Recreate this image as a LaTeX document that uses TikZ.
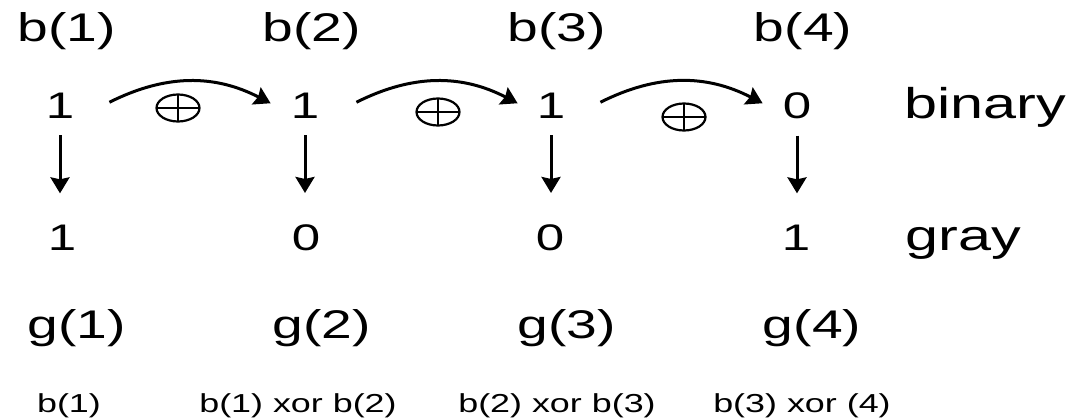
\documentclass[tikz,border=0pt]{standalone}
\usepackage{fontspec}
\setmainfont[FakeStretch=1.38]{Liberation Sans}
\usetikzlibrary{arrows.meta,shapes.geometric}
\begin{document}
\begin{tikzpicture}[x=1pt,y=-1pt,>={Stealth[length=16pt,width=19pt,inset=2pt]},
    etich/.style={anchor=base,inner sep=0pt,font=\fontsize{40}{40}\selectfont},
    cifra/.style={anchor=base,inner sep=0pt,font=\fontsize{37}{37}\selectfont},
    parola/.style={anchor=base,inner sep=0pt,font=\fontsize{43}{43}\selectfont},
    nota/.style={anchor=base,inner sep=0pt,font=\fontsize{26}{26}\selectfont},
    freccia/.style={->,line width=3pt},
    xorsym/.style={ellipse,draw,line width=2.2pt,minimum width=43pt,minimum height=27pt,inner sep=0pt,
        path picture={\draw[line width=1.8pt] (path picture bounding box.west) -- (path picture bounding box.east)
            (path picture bounding box.north) -- (path picture bounding box.south);}}]
    \useasboundingbox (0,0) rectangle (1076,420);
    % etichette b(i)
    \node[etich] (lb1) at (67,42) {b(1)};
    \node[etich] (lb2) at (312,42) {b(2)};
    \node[etich] (lb3) at (557,42) {b(3)};
    \node[etich] (lb4) at (803,42) {b(4)};
    % codice binario
    \node[cifra] (b1) at (60,118) {1};
    \node[cifra] (b2) at (305,118) {1};
    \node[cifra] (b3) at (551,118) {1};
    \node[cifra] (b4) at (797,118) {0};
    \node[parola] (bin) at (985,118) {binary};
    % operatori xor
    \node[xorsym] (x1) at (178,108) {};
    \node[xorsym] (x2) at (438,112) {};
    \node[xorsym] (x3) at (684,117) {};
    % frecce curve
    \draw[freccia] ([xshift=35pt,yshift=3pt]b1.east) to[bend left=27] ([xshift=-20pt,yshift=2pt]b2.west);
    \draw[freccia] ([xshift=37pt,yshift=3pt]b2.east) to[bend left=27] ([xshift=-19pt,yshift=2pt]b3.west);
    \draw[freccia] ([xshift=35pt,yshift=3pt]b3.east) to[bend left=27] ([xshift=-20pt,yshift=2pt]b4.west);
    % codice gray
    \node[cifra] (g1) at (62,250) {1};
    \node[cifra] (g2) at (306,250) {0};
    \node[cifra] (g3) at (550,250) {0};
    \node[cifra] (g4) at (796,250) {1};
    \node[parola] (gry) at (963,250) {gray};
    % frecce verticali
    \draw[freccia,shorten <=17pt,shorten >=31pt] (b1.south) -- (b1.south |- g1.north);
    \draw[freccia,shorten <=17pt,shorten >=31pt] (b2.south) -- (b2.south |- g2.north);
    \draw[freccia,shorten <=17pt,shorten >=31pt] (b3.south) -- (b3.south |- g3.north);
    \draw[freccia,shorten <=17pt,shorten >=31pt] (b4.south) -- (b4.south |- g4.north);
    % etichette g(i)
    \node[etich] (lg1) at (77,338) {g(1)};
    \node[etich] (lg2) at (322,338) {g(2)};
    \node[etich] (lg3) at (567,338) {g(3)};
    \node[etich] (lg4) at (812,338) {g(4)};
    % formule
    \node[nota] (f1) at (69,412) {b(1)};
    \node[nota] (f2) at (298,412) {b(1) xor b(2)};
    \node[nota] (f3) at (557,412) {b(2) xor b(3)};
    \node[nota] (f4) at (802,412) {b(3) xor (4)};
\end{tikzpicture}
\end{document}
